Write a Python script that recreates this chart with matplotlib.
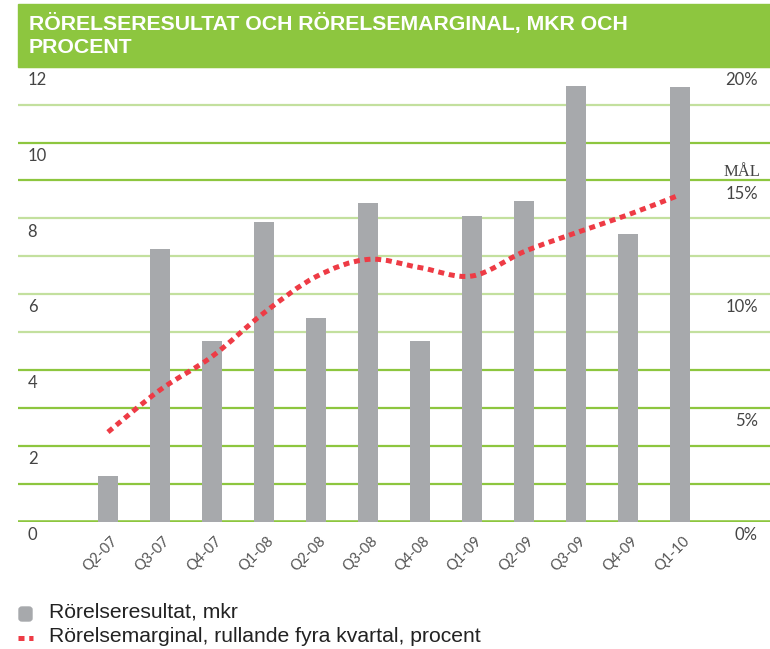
import matplotlib
matplotlib.use("Agg")
import matplotlib.pyplot as plt
import numpy as np
from matplotlib.path import Path
from matplotlib.patches import PathPatch, Rectangle, FancyBboxPatch
from matplotlib.lines import Line2D

# data
quarters = ["Q2-07", "Q3-07", "Q4-07", "Q1-08", "Q2-08", "Q3-08",
            "Q4-08", "Q1-09", "Q2-09", "Q3-09", "Q4-09", "Q1-10"]
rorelseresultat = [1.2, 7.2, 4.77, 7.9, 5.37, 8.4, 4.77, 8.06, 8.47, 11.49, 7.59, 11.47]
marginal_pct = [3.94, 5.79, 7.26, 9.18, 10.77, 11.53, 11.17, 10.8, 11.87, 12.7, 13.49, 14.37]
left_ticks = [0, 2, 4, 6, 8, 10, 12]
right_ticks = [0, 5, 10, 15, 20]

title = "RÖRELSERESULTAT OCH RÖRELSEMARGINAL, MKR OCH\nPROCENT"
legend_bar = "Rörelseresultat, mkr"
legend_line = "Rörelsemarginal, rullande fyra kvartal, procent"

GREEN = "#8DC63F"
LIGHT_GREEN = "#C3E09E"
BAR = "#A7A9AC"
RED = "#EE3B45"
TXT = "#444444"
tickfont = dict(family="Lato", weight="normal", size=12, color=TXT)

W, H = 770, 649
fig = plt.figure(figsize=(W / 100, H / 100), dpi=100)
ax = fig.add_axes([18 / W, 1 - 521.7 / H, 752 / W, (521.7 - 66.7) / H])
ax2 = ax.twinx()

x = np.arange(len(quarters))
ax.bar(x, rorelseresultat, width=0.38, color=BAR, zorder=3)

# horizontal guide lines, one per unit
dark = {0, 1, 2, 3, 4, 9, 10}
for v in range(0, 13):
    ax.axhline(v, color=GREEN if v in dark else LIGHT_GREEN,
               lw=2.6 if v == 0 else 1.6, zorder=1)

ax.set_xlim(-1.73, 12.73)
ax.set_ylim(0, 12)
ax2.set_ylim(0, 20)
for a in (ax, ax2):
    a.set_yticks([])
    for s in a.spines.values():
        s.set_visible(False)
ax.set_xticks([])

# smooth curve through the margin points (Catmull-Rom as cubic Bezier)
pts = np.column_stack([x, marginal_pct])
verts = [pts[0]]
codes = [Path.MOVETO]
for i in range(len(pts) - 1):
    p0 = pts[max(i - 1, 0)]
    p1 = pts[i]
    p2 = pts[i + 1]
    p3 = pts[min(i + 2, len(pts) - 1)]
    verts += [p1 + (p2 - p0) / 6, p2 - (p3 - p1) / 6, p2]
    codes += [Path.CURVE4] * 3
ax2.add_patch(PathPatch(Path(verts, codes), fill=False, edgecolor=RED, lw=3.6,
                        linestyle=(0, (1.2, 0.95)), capstyle="butt", zorder=5))

# tick labels
for v in left_ticks:
    ax.annotate(str(v), xy=(0, v), xycoords=("axes fraction", "data"),
                xytext=(7, -9.5), textcoords="offset points",
                ha="left", va="center", **tickfont)
for v in right_ticks:
    ax2.annotate(f"{v}%", xy=(0.984, v), xycoords=("axes fraction", "data"),
                 xytext=(0, -9.5), textcoords="offset points",
                 ha="right", va="center", **tickfont)
ax2.annotate("MÅL", xy=(0.987, 15), xycoords=("axes fraction", "data"),
             xytext=(0, 6), textcoords="offset points", ha="right", va="center",
             family="Liberation Serif", size=12, color=TXT)
for xi, q in zip(x, quarters):
    ax.annotate(q, xy=(xi, 0), xycoords="data", xytext=(2, -9),
                textcoords="offset points", rotation=45, rotation_mode="anchor",
                ha="right", va="top", family="Lato", weight="normal",
                size=10.5, color="#555555")

# title band
fig.patches.append(Rectangle((18 / W, 1 - 66.7 / H), 752 / W, 62.7 / H,
                             transform=fig.transFigure, color=GREEN, zorder=0))
fig.text(29 / W, 1 - 13 / H, title, ha="left", va="top", color="white",
         family="Liberation Sans", weight="bold", size=15.3, linespacing=1.25)

# legend
fig.patches.append(FancyBboxPatch((19 / W, 1 - 621 / H), 13 / W, 14 / H,
                                  boxstyle="round,pad=0,rounding_size=0.004",
                                  transform=fig.transFigure, color=BAR))
fig.lines.append(Line2D([18 / W, 33 / W], [1 - 638 / H] * 2, transform=fig.transFigure,
                        color=RED, lw=3.6, linestyle=(0, (1.2, 0.95)),
                        solid_capstyle="butt", dash_capstyle="butt"))
fig.text(49 / W, 1 - 612 / H, legend_bar, ha="left", va="center",
         family="Liberation Sans", size=15.2, color="#222222")
fig.text(49 / W, 1 - 637 / H, legend_line, ha="left", va="center",
         family="Liberation Sans", size=15.2, color="#222222")

fig.savefig("out.png", dpi=100)
